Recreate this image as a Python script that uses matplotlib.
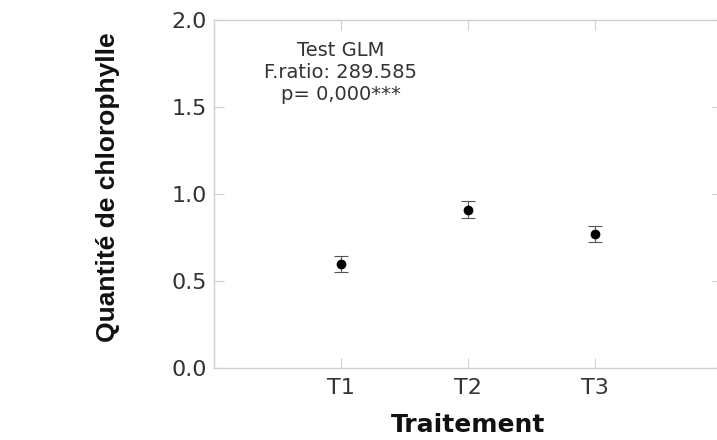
import matplotlib.pyplot as plt

# data
traitements = ["T1", "T2", "T3"]
chlorophylle = [0.60, 0.91, 0.77]
erreur = [0.046, 0.048, 0.045]
annotation = ["Test GLM", "F.ratio: 289.585", "p= 0,000***"]

W, H = 717, 440
fig = plt.figure(figsize=(W / 100, H / 100), dpi=100)
ax = fig.add_axes([214 / W, 1 - 368 / H, 508 / W, 348 / H])

x = list(range(1, len(traitements) + 1))
ax.errorbar(x, chlorophylle, yerr=erreur, fmt="o", color="black",
            markersize=6, ecolor="#555555", elinewidth=0.8, capsize=5,
            capthick=0.8)

ax.set_xlim(0, 4)
ax.set_ylim(0, 2)
ax.set_xticks(x)
ax.set_xticklabels(traitements)
ax.set_yticks([0.0, 0.5, 1.0, 1.5, 2.0])
ax.set_yticklabels(["0.0", "0.5", "1.0", "1.5", "2.0"])

for side in ["left", "bottom", "top", "right"]:
    ax.spines[side].set_color("#cfcfcf")
    ax.spines[side].set_linewidth(1.0)
ax.tick_params(direction="in", length=7, width=0.8, color="#cfcfcf",
               top=True, right=True, labelsize=16, labelcolor="#333333")
ax.tick_params(axis="y", pad=5)
ax.tick_params(axis="x", pad=7)
for lab in ax.get_xticklabels() + ax.get_yticklabels():
    lab.set_family("DejaVu Sans")

ax.set_ylabel("Quantité de chlorophylle", family="Liberation Sans",
              fontweight="bold", fontsize=19, color="#111111")
ax.yaxis.set_label_coords(-0.185, 0.52)
ax.set_xlabel("Traitement", family="DejaVu Sans", fontweight="bold",
              fontsize=18, labelpad=11, color="#111111")

ax.text(1, 1.70, "\n".join(annotation), ha="center", va="center",
        fontsize=14, family="DejaVu Sans", color="#333333", linespacing=1.2)

fig.savefig("out.png", dpi=100)
